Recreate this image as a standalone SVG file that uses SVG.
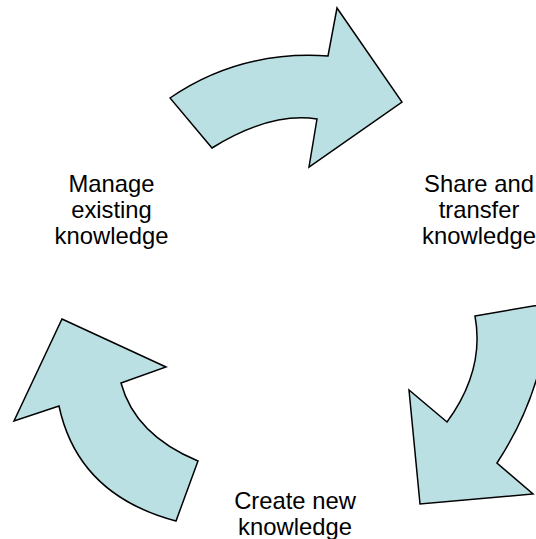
<svg xmlns="http://www.w3.org/2000/svg" width="536" height="539" viewBox="0 0 536 539">
<style>
.arrow{fill:#BBE0E3;stroke:#000;stroke-width:1.5;stroke-linejoin:miter}
.lbl{font-family:"Liberation Sans",Arial,sans-serif;font-size:23.8px;fill:#000;text-anchor:middle}
</style>
<rect width="536" height="539" fill="#fff"/>
<g id="connectors">
<path id="arrow-top" class="arrow" d="M170,98 Q240,50 328,56 L337,8 L402,102 L309,167 L317,119 Q270,112 212,148 Z"/>
<path id="arrow-right" class="arrow" d="M475,316 L550,303 Q545,390 497,463 L533,494 L420,504 L409,390 L447,422 Q485,370 475,316 Z"/>
<path id="arrow-left" class="arrow" d="M62,319 L166,367 L121,383 Q135,435 198,461 L176,521 Q78,495 59,406 L14,421 Z"/>
</g>
<g id="node-manage">
<text class="lbl" x="111.5" y="192">Manage</text>
<text class="lbl" x="111.5" y="218">existing</text>
<text class="lbl" x="111.5" y="244">knowledge</text>
</g>
<g id="node-share">
<text class="lbl" x="479" y="192">Share and</text>
<text class="lbl" x="479" y="218">transfer</text>
<text class="lbl" x="479" y="244">knowledge</text>
</g>
<g id="node-create">
<text class="lbl" x="295" y="509">Create new</text>
<text class="lbl" x="295" y="535">knowledge</text>
</g>
</svg>
